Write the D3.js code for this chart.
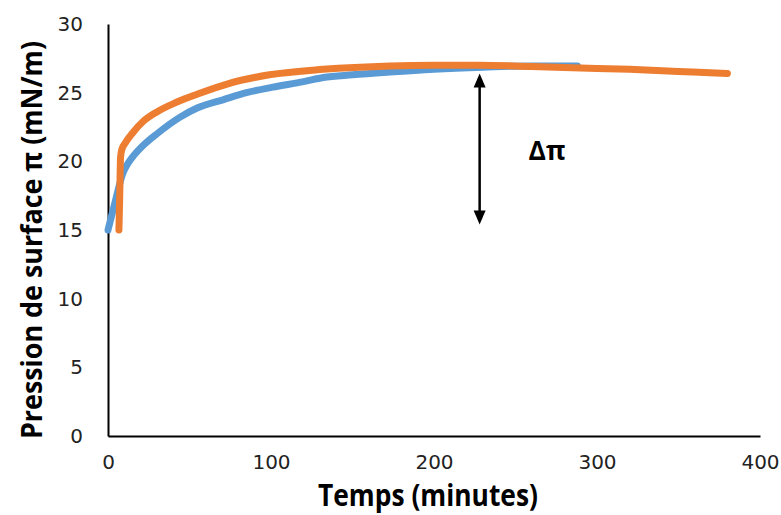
<!DOCTYPE html>
<html><head><meta charset="utf-8">
<script src="https://cdn.jsdelivr.net/npm/d3@7"></script>
<style>body{margin:0;background:#fff}svg{display:block}</style>
</head><body>
<script>
const xTicks = [0, 100, 200, 300, 400];
const yTicks = [0, 5, 10, 15, 20, 25, 30];
const blueT = [0, 4.5, 9, 12, 15, 22, 30, 44, 55, 71, 85, 101, 120, 132, 150, 173, 200, 230, 260, 288];
const blueV = [15.0, 17.1, 19.1, 19.8, 20.3, 21.2, 22.0, 23.2, 23.9, 24.5, 25.0, 25.4, 25.8, 26.1, 26.3, 26.5, 26.7, 26.85, 26.95, 26.95];
const orangeT = [6.7, 7.2, 7.7, 8.6, 10.4, 15.3, 21.5, 30, 42, 55, 75, 99, 132, 173, 200, 228, 260, 290, 320, 350, 380];
const orangeV = [15.0, 17.5, 20.3, 20.9, 21.3, 22.1, 22.9, 23.6, 24.3, 24.9, 25.7, 26.3, 26.7, 26.95, 27.0, 27.0, 26.9, 26.8, 26.7, 26.55, 26.4];
const arrowT = 228, arrowTop = 26.4, arrowBottom = 15.4;
const deltaLabel = "Δπ", deltaT = 258;
const xTitle = "Temps (minutes)";
const yTitle = "Pression de surface π (mN/m)";

const W = 781, H = 515;
const svg = d3.select("body").append("svg").attr("width", W).attr("height", H);
const x = d3.scaleLinear().domain([0, 400]).range([108, 760]);
const y = d3.scaleLinear().domain([0, 30]).range([436, 24]);
const tickFont = "'DejaVu Sans', sans-serif";
const titleFont = "'Open Sans', 'DejaVu Sans', sans-serif";

// axes
const xa = svg.append("g").attr("transform", `translate(0,${y(0)})`)
  .call(d3.axisBottom(x).tickValues(xTicks).tickSize(0).tickPadding(19).tickFormat(d3.format("d")));
const ya = svg.append("g").attr("transform", `translate(${x(0)},0)`)
  .call(d3.axisLeft(y).tickValues(yTicks).tickSize(0).tickPadding(25).tickFormat(d3.format("d")));
[xa, ya].forEach(a => {
  a.select(".domain").attr("stroke", "#000").attr("stroke-width", 2);
  a.selectAll("text").attr("font-family", tickFont).attr("font-size", 20).attr("fill", "#222");
});

const line = d3.line().x(d => x(d[0])).y(d => y(d[1])).curve(d3.curveMonotoneX);
svg.append("path").datum(blueT.map((t, i) => [t, blueV[i]]))
  .attr("d", line).attr("fill", "none").attr("stroke", "#5B9BD5")
  .attr("stroke-width", 7).attr("stroke-linecap", "round").attr("stroke-linejoin", "round");
svg.append("path").datum(orangeT.map((t, i) => [t, orangeV[i]]))
  .attr("d", line).attr("fill", "none").attr("stroke", "#ED7D31")
  .attr("stroke-width", 7).attr("stroke-linecap", "round").attr("stroke-linejoin", "round");

// arrow
const ax = x(arrowT), ay1 = y(arrowTop), ay2 = y(arrowBottom);
const hw = 6, hh = 14;
svg.append("line").attr("x1", ax).attr("x2", ax).attr("y1", ay1 + hh - 2).attr("y2", ay2 - hh + 2)
  .attr("stroke", "#000").attr("stroke-width", 2.5);
svg.append("path").attr("d", `M${ax},${ay1} L${ax - hw},${ay1 + hh} L${ax + hw},${ay1 + hh} Z`).attr("fill", "#000");
svg.append("path").attr("d", `M${ax},${ay2} L${ax - hw},${ay2 - hh} L${ax + hw},${ay2 - hh} Z`).attr("fill", "#000");
svg.append("text").attr("x", x(deltaT)).attr("y", 160)
  .attr("font-family", titleFont).attr("font-weight", "bold").attr("font-size", 26)
  .attr("textLength", 37).attr("lengthAdjust", "spacingAndGlyphs").text(deltaLabel);

// titles
svg.append("text").attr("x", 428).attr("y", 506).attr("text-anchor", "middle")
  .attr("font-family", titleFont).attr("font-weight", "bold").attr("font-size", 30)
  .attr("textLength", 220).attr("lengthAdjust", "spacingAndGlyphs").text(xTitle);
svg.append("text").attr("transform", "translate(42,240) rotate(-90)").attr("text-anchor", "middle")
  .attr("font-family", titleFont).attr("font-weight", "bold").attr("font-size", 28)
  .attr("textLength", 398).attr("lengthAdjust", "spacingAndGlyphs").text(yTitle);
</script>
</body></html>
